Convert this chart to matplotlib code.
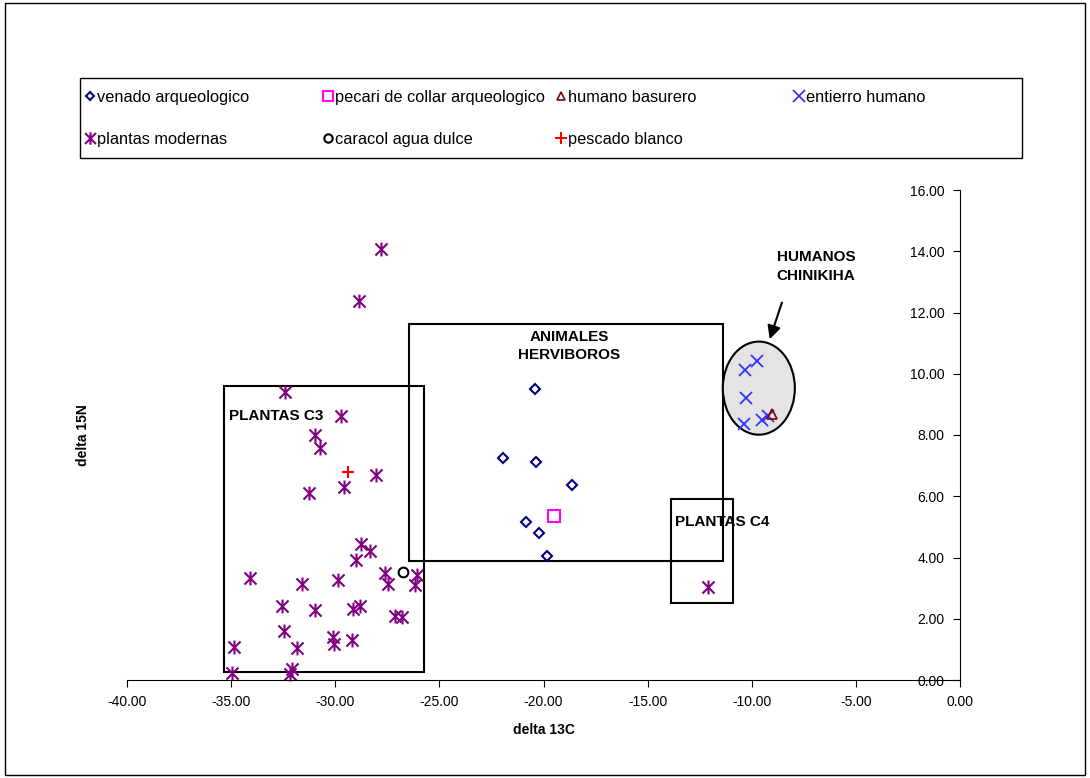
import matplotlib
matplotlib.use("Agg")
import matplotlib.pyplot as plt
from matplotlib.lines import Line2D
from matplotlib.patches import Rectangle, Ellipse
from matplotlib.path import Path

plt.rcParams['font.family'] = ['Liberation Sans', 'DejaVu Sans']

# data (delta 13C, delta 15N)
venado_x = [-20.41, -21.95, -20.38, -18.65, -20.83, -20.21, -19.82]
venado_y = [9.50, 7.26, 7.11, 6.37, 5.17, 4.79, 4.05]

pecari_x = [-19.50]
pecari_y = [5.36]

basurero_x = [-9.02]
basurero_y = [8.68]

entierro_x = [-9.77, -10.33, -10.30, -10.38, -9.50, -9.24]
entierro_y = [10.42, 10.12, 9.20, 8.35, 8.49, 8.62]

plantas_x = [-27.80, -28.87, -32.40, -29.72, -30.98, -30.73, -28.05, -29.58, -31.25,
             -28.74, -28.33, -28.98, -34.08, -27.62, -27.46, -31.59, -29.87, -26.08,
             -26.16, -32.54, -30.98, -29.15, -28.81, -27.13, -26.79, -32.47, -30.13,
             -30.05, -29.21, -34.85, -31.83, -32.08, -32.16, -34.98, -12.10]
plantas_y = [14.07, 12.39, 9.40, 8.61, 7.99, 7.58, 6.68, 6.29, 6.10,
             4.43, 4.20, 3.92, 3.34, 3.50, 3.13, 3.13, 3.27, 3.43,
             3.10, 2.42, 2.29, 2.32, 2.42, 2.10, 2.07, 1.60, 1.41,
             1.19, 1.29, 1.08, 1.04, 0.35, 0.20, 0.22, 3.04]

caracol_x = [-26.75]
caracol_y = [3.52]

pescado_x = [-29.40]
pescado_y = [6.78]

# excel style asterisk: an x with a vertical bar
star = Path([(-1, -1), (1, 1), (-1, 1), (1, -1), (0, -1.15), (0, 1.15)],
            [Path.MOVETO, Path.LINETO, Path.MOVETO, Path.LINETO, Path.MOVETO, Path.LINETO])

fig = plt.figure(figsize=(10.9, 7.78), dpi=100)
ax = fig.add_axes([127 / 1090, 98 / 778, 833 / 1090, 490 / 778])

ax.plot(venado_x, venado_y, ls='none', marker='D', ms=5, mfc='none', mec='#000080', mew=1.5, clip_on=False)
ax.plot(pecari_x, pecari_y, ls='none', marker='s', ms=8, mfc='none', mec='#ff00ff', mew=1.5, clip_on=False)
ax.plot(entierro_x, entierro_y, ls='none', marker='x', ms=8, mec='#3333ff', mew=1.3, clip_on=False)
ax.plot(basurero_x, basurero_y, ls='none', marker='^', ms=7, mfc='none', mec='#800000', mew=1.2, clip_on=False)
ax.plot(plantas_x, plantas_y, ls='none', marker=star, ms=10, mec='#800080', mfc='none', mew=1.5, clip_on=False)
ax.plot(caracol_x, caracol_y, ls='none', marker='o', ms=7, mfc='none', mec='black', mew=1.5, clip_on=False)
ax.plot(pescado_x, pescado_y, ls='none', marker='+', ms=9, mec='#ff0000', mew=1.5, clip_on=False)

# boxes and ellipse
ax.add_patch(Rectangle((-35.34, 0.26), 9.6, 9.34, fill=False, ec='black', lw=1.5, zorder=1))
ax.add_patch(Rectangle((-26.48, 3.87), 15.09, 7.75, fill=False, ec='black', lw=1.5, zorder=1))
ax.add_patch(Rectangle((-13.88, 2.52), 2.98, 3.39, fill=False, ec='black', lw=1.5, zorder=1))
ax.add_patch(Ellipse((-9.66, 9.53), 3.46, 3.04, fc='#e4e4e4', ec='black', lw=1.5, zorder=1))

ax.text(-35.1, 8.62, 'PLANTAS C3', fontsize=11, fontweight='bold', va='center', ha='left')
ax.text(-13.69, 5.16, 'PLANTAS C4', fontsize=11, fontweight='bold', va='center', ha='left')
ax.text(-18.78, 10.9, 'ANIMALES\nHERVIBOROS', fontsize=11, fontweight='bold', va='center', ha='center',
        linespacing=1.4)
ax.text(-6.92, 13.5, 'HUMANOS\nCHINIKIHA', fontsize=11, fontweight='bold', va='center', ha='center',
        linespacing=1.4)
ax.annotate('', xy=(-9.18, 11.04), xytext=(-8.51, 12.41),
            arrowprops=dict(arrowstyle='-|>', color='black', lw=1.5, mutation_scale=20))

# axes
ax.set_xlim(-40, 0)
ax.set_ylim(0, 16)
ax.spines['top'].set_visible(False)
ax.spines['right'].set_visible(False)
ax.spines['left'].set_position(('data', 0))
ax.set_xticks(range(-40, 1, 5))
ax.set_yticks(range(0, 17, 2))
ax.set_xticklabels([f'{v:.2f}' for v in range(-40, 1, 5)])
ax.set_yticklabels([f'{v:.2f}' for v in range(0, 17, 2)])
ax.tick_params(direction='out', length=5, labelsize=10, pad=6)
ax.set_xlabel('delta 13C', fontsize=10, fontweight='bold', labelpad=10)
ax.set_ylabel('delta 15N', fontsize=10, fontweight='bold')
ax.yaxis.set_label_coords(-0.044, 0.5)

# legend frame, figure border
fig.patches.append(Rectangle((80 / 1090, 620 / 778), 942 / 1090, 80 / 778, transform=fig.transFigure,
                             fill=False, ec='black', lw=1))
fig.patches.append(Rectangle((5 / 1090, 3 / 778), 1080 / 1090, 772 / 778, transform=fig.transFigure,
                             fill=False, ec='black', lw=1))

h = {
    'venado arqueologico': Line2D([], [], ls='none', marker='D', ms=4.5, mfc='none', mec='#000080', mew=1.5),
    'pecari de collar arqueologico': Line2D([], [], ls='none', marker='s', ms=7, mfc='none', mec='#ff00ff', mew=1.5),
    'humano basurero': Line2D([], [], ls='none', marker='^', ms=6, mfc='none', mec='#800000', mew=1.2),
    'entierro humano': Line2D([], [], ls='none', marker='x', ms=8, mec='#3333ff', mew=1.3),
    'plantas modernas': Line2D([], [], ls='none', marker=star, ms=9, mec='#800080', mfc='none', mew=1.5),
    'caracol agua dulce': Line2D([], [], ls='none', marker='o', ms=6, mfc='none', mec='black', mew=1.5),
    'pescado blanco': Line2D([], [], ls='none', marker='+', ms=9, mec='#ff0000', mew=1.5),
}
columns = [
    (85, ['venado arqueologico', 'plantas modernas']),
    (323, ['pecari de collar arqueologico', 'caracol agua dulce']),
    (556, ['humano basurero', 'pescado blanco']),
    (794, ['entierro humano']),
]
for x0, names in columns:
    fig.legend([h[n] for n in names], names, loc='upper left',
               bbox_to_anchor=(x0 / 1090, 1 - 90 / 778), frameon=False, fontsize=11.8,
               handlelength=0.6, handletextpad=0.15, borderpad=0, borderaxespad=0,
               labelspacing=1.65)

fig.savefig('out.png', dpi=100)
